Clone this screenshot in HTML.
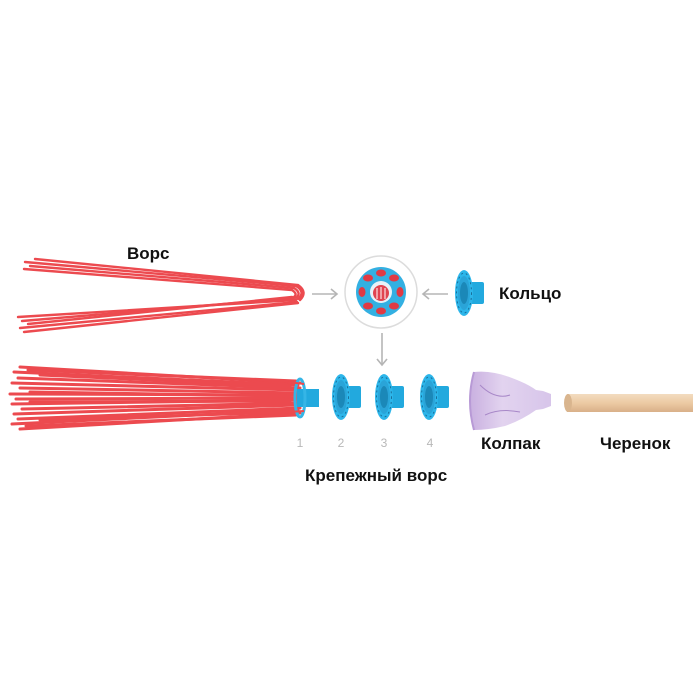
<!DOCTYPE html>
<html><head><meta charset="utf-8"><style>
html,body{margin:0;padding:0;background:#fff;}
svg{display:block;}
text{font-family:"Liberation Sans",Arial,sans-serif;}
</style></head><body>
<svg width="700" height="699" viewBox="0 0 700 699" xmlns="http://www.w3.org/2000/svg">
<defs>
<linearGradient id="wood" x1="0" y1="0" x2="0" y2="1"><stop offset="0" stop-color="#f3dcc0"/><stop offset="0.5" stop-color="#eccaa3"/><stop offset="1" stop-color="#d9b089"/></linearGradient>
<linearGradient id="cone" x1="0" y1="0" x2="1" y2="0"><stop offset="0" stop-color="#c9b0e0"/><stop offset="0.4" stop-color="#e2d3ef"/><stop offset="1" stop-color="#d7c5ea"/></linearGradient>
<g id="ring">
<rect x="0" y="-11" width="20" height="22" fill="#22a9de" rx="2"/>
<ellipse cx="0" cy="0" rx="9" ry="23" fill="#2db6ea"/>
<ellipse cx="0" cy="0" rx="6" ry="17" fill="#2aa4d8"/>
<ellipse cx="0" cy="0" rx="4" ry="11" fill="#1b88b8"/>
<ellipse cx="0" cy="0" rx="7.5" ry="20" fill="none" stroke="#1a6f9b" stroke-width="1" stroke-dasharray="2 3"/>
</g>
</defs>
<text x="127" y="259" font-size="17" font-weight="bold" fill="#111">Ворс</text>
<g stroke="#ec4a4f" stroke-width="2.4" fill="none" stroke-linecap="round">
<path d="M25,262 L296,286 Q306,292 298,299"/>
<path d="M30,266 L294,288 Q302,293 296,298"/>
<path d="M24,269 L292,290 Q298,294 294,297"/>
<path d="M35,259 L298,285 Q308,292 300,300"/>
<path d="M18,317 L296,300"/>
<path d="M22,321 L294,298"/>
<path d="M20,328 L297,302"/>
<path d="M28,324 L292,297"/>
<path d="M24,332 L298,303"/>
</g>
<g stroke="#ec4a4f" stroke-width="3" fill="none" stroke-linecap="round">
<path d="M20,367 L300,383"/><path d="M14,372 L298,385"/><path d="M18,378 L300,388"/>
<path d="M12,383 L298,390"/><path d="M20,388 L300,393"/><path d="M10,394 L298,395"/>
<path d="M16,399 L300,398"/><path d="M12,404 L298,400"/><path d="M22,409 L300,403"/>
<path d="M14,414 L298,405"/><path d="M18,419 L300,408"/><path d="M12,424 L298,410"/>
<path d="M20,429 L300,413"/><path d="M28,370 L296,381"/><path d="M26,426 L296,415"/>
<path d="M40,375 L290,386"/><path d="M40,420 L290,412"/><path d="M30,392 L290,396"/><path d="M30,402 L290,401"/>
</g>
<rect x="297" y="389" width="22" height="18" fill="#22a9de"/>
<ellipse cx="300" cy="398" rx="5" ry="19" fill="none" stroke="#35b5e6" stroke-width="3"/>
<g stroke="#ec4a4f" stroke-width="2"><path d="M288,382 L304,384"/><path d="M288,412 L304,411"/></g>
<g stroke="#b5b5b5" stroke-width="1.6" fill="none">
<path d="M312,294 L337,294"/><path d="M331,289 L337,294 L331,299"/>
<path d="M448,294 L423,294"/><path d="M429,289 L423,294 L429,299"/>
<path d="M382,333 L382,365"/><path d="M377,359 L382,365 L387,359"/>
</g>
<circle cx="381" cy="292" r="36" fill="#fff" stroke="#dcdcdc" stroke-width="1.5"/>
<circle cx="381" cy="292" r="25" fill="#33b0e2"/>
<g fill="#e03a44">
<ellipse cx="381" cy="273" rx="5" ry="3.5"/><ellipse cx="394" cy="278" rx="5" ry="3.5"/>
<ellipse cx="400" cy="292" rx="3.5" ry="5"/><ellipse cx="394" cy="306" rx="5" ry="3.5"/>
<ellipse cx="381" cy="311" rx="5" ry="3.5"/><ellipse cx="368" cy="306" rx="5" ry="3.5"/>
<ellipse cx="362" cy="292" rx="3.5" ry="5"/><ellipse cx="368" cy="278" rx="5" ry="3.5"/>
</g>
<circle cx="381" cy="292" r="11" fill="#e8f2f8"/>
<circle cx="381" cy="293" r="8" fill="#e04450"/>
<path d="M377,288 L377,299 M381,287 L381,299 M385,288 L385,299" stroke="#fff" stroke-width="1"/>
<use href="#ring" x="464" y="293"/>
<text x="499" y="299" font-size="17" font-weight="bold" fill="#111">Кольцо</text>
<use href="#ring" x="341" y="397"/>
<use href="#ring" x="384" y="397"/>
<use href="#ring" x="429" y="397"/>
<g font-size="12" fill="#b8b8b8" text-anchor="middle">
<text x="300" y="447">1</text><text x="341" y="447">2</text><text x="384" y="447">3</text><text x="430" y="447">4</text>
</g>
<path d="M474,372 Q492,370 512,378 Q528,384 536,390 L543,391 L551,394 L551,406 L543,409 L536,410 Q522,420 505,426 Q488,430 474,430 Q466,401 474,372 Z" fill="url(#cone)"/>
<path d="M474,372 Q466,401 474,430" stroke="#b89ad6" stroke-width="2" fill="none"/>
<path d="M480,385 Q495,400 510,395 M485,415 Q500,408 520,412" stroke="#a888c8" stroke-width="1" fill="none"/>
<rect x="567" y="394" width="126" height="18" fill="url(#wood)"/>
<ellipse cx="568" cy="403" rx="4" ry="9" fill="#d9b58e"/>
<text x="481" y="449" font-size="17" font-weight="bold" fill="#111">Колпак</text>
<text x="600" y="449" font-size="17" font-weight="bold" fill="#111">Черенок</text>
<text x="305" y="481" font-size="17" font-weight="bold" fill="#111">Крепежный ворс</text>
</svg>
</body></html>
